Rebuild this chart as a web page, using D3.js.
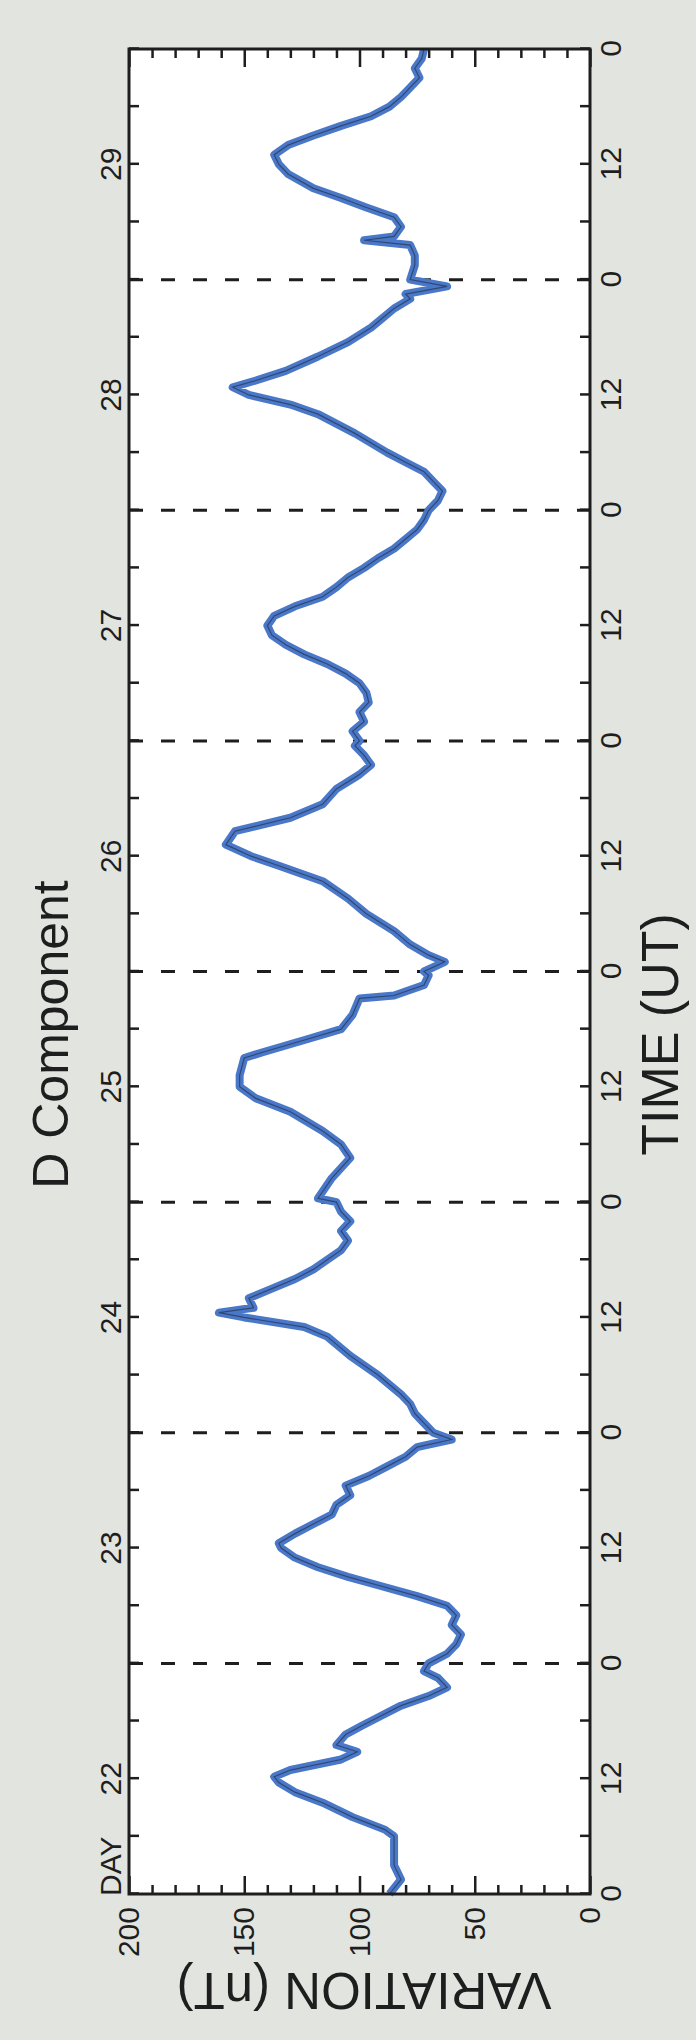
<!DOCTYPE html>
<html>
<head>
<meta charset="utf-8">
<script src="https://cdn.jsdelivr.net/npm/d3@7"></script>
<style>
	body { margin: 0; background: #e2e5df; }
	svg { display: block; }
	text { font-family: "Liberation Sans", Arial, sans-serif; fill: #1e1e1e; }
</style>
</head>
<body>
<svg id="chart" width="696" height="2040"></svg>
<script>
// hours counted from day 22, 00 UT
const HOURS = [
	0, 1.5, 3, 4.5, 6, 6.7, 8, 9.5, 10.6, 11.6, 12.2, 12.9, 14, 14.8, 15.5, 16.6, 17.5, 18.5, 19.6, 20.6, 21.5, 22.5, 23.2, 24,
	25, 26, 27, 28, 29, 30, 31, 32, 33, 34, 35, 36, 36.5, 37.5, 38.5, 39.5, 40.5, 41.5, 42.5, 43.5, 44.5, 45.5, 46.5, 47.3, 48,
	49, 50, 51, 52, 54, 56, 58, 59, 60, 60.5, 61, 62, 63, 64, 65, 66, 67, 68, 69, 70, 71, 72,
	72.4, 74.5, 76.6, 78, 79.4, 81.4, 82.8, 84, 85.2, 87, 87.6, 89, 90, 91.5, 93.2, 93.5, 94.6, 95.6, 96,
	97, 97.7, 98.8, 100.2, 102, 103.6, 105.4, 107, 108, 109.2, 110.6, 112, 113.4, 115, 116.5, 117.5, 118.5, 119.5, 120,
	121, 122, 123, 124, 125, 126, 127, 128, 129, 130, 131, 132, 133, 134, 135, 136, 137, 138, 139, 140, 141, 142, 143, 144,
	145, 146, 147, 148, 149, 150, 152, 154, 155, 156, 156.8, 157.5, 158.5, 160, 161.5, 163, 164, 165, 166, 166.5, 167.3, 168,
	169.5, 170.5, 171.6, 172.1, 172.5, 173.5, 174.5, 175.5, 176.5, 177.5, 179, 180, 181, 182, 183, 184, 185, 186, 187, 188, 189, 190, 191, 192
];
const D_NT = [
	87, 82, 85, 85, 85, 89, 103, 116, 128, 135, 137, 130, 108, 101, 110, 106, 99, 91, 82, 70, 62, 66, 72, 70,
	62, 58, 56, 60, 58, 62, 75, 90, 105, 118, 128, 134, 135, 128, 120, 112, 110, 104, 106, 96, 88, 80, 75, 60, 68,
	72, 76, 78, 82, 92, 104, 114, 124, 150, 161, 146, 148, 138, 128, 120, 114, 108, 105, 108, 104, 108, 110,
	118, 112, 104, 108, 116, 130, 145, 152, 152, 150, 142, 122, 108, 103, 100, 85, 72, 70, 72,
	63, 70, 78, 85, 97, 105, 116, 135, 147, 158, 154, 130, 116, 110, 100, 95, 98, 102, 100,
	103, 98, 100, 96, 97, 100, 106, 114, 124, 132, 138, 140, 137, 128, 116, 110, 105, 98, 92, 85, 80, 75, 72, 70,
	66, 64, 68, 72, 80, 88, 102, 118, 130, 148, 155, 145, 132, 118, 105, 95, 90, 85, 78, 80, 62, 78,
	76, 76, 78, 98, 85, 82, 85, 97, 108, 120, 131, 135, 137, 131, 120, 108, 95, 87, 82, 78, 74, 76, 73, 72
];
const DAYS = [22, 23, 24, 25, 26, 27, 28, 29];
const VALUE_TICKS = [0, 50, 100, 150, 200];

const BG = "#e2e5df";
const INK = "#1e1e1e";
const LINE_BLUE = "#4a78c8";

// the whole chart is drawn landscape, then turned a quarter turn
const W = 696, H = 2040;
const MARGIN = { left: 146, top: 129 };
const PLOT_W = 1845;
const PLOT_H = 461;

const svg = d3.select("#chart");
svg.append("rect").attr("width", W).attr("height", H).attr("fill", BG);

const root = svg.append("g").attr("transform", "translate(0," + H + ") rotate(-90)");
const g = root.append("g").attr("transform", "translate(" + MARGIN.left + "," + MARGIN.top + ")");

const x = d3.scaleLinear().domain([0, DAYS.length * 24]).range([0, PLOT_W]);
const y = d3.scaleLinear().domain([0, 200]).range([PLOT_H, 0]);

g.append("rect")
	.attr("width", PLOT_W)
	.attr("height", PLOT_H)
	.attr("fill", "#fff");

// day boundaries
const bounds = d3.range(1, DAYS.length).map((d) => d * 24);
g.append("g")
	.selectAll("line")
	.data(bounds)
	.enter().append("line")
	.attr("x1", (d) => x(d))
	.attr("x2", (d) => x(d))
	.attr("y1", 0)
	.attr("y2", PLOT_H)
	.attr("stroke", INK)
	.attr("stroke-width", 3)
	.attr("stroke-dasharray", "14,18");

// data
const pts = HOURS.map((h, i) => [h, D_NT[i]]);
const line = d3.line().x((d) => x(d[0])).y((d) => y(d[1]));

g.append("path")
	.datum(pts)
	.attr("fill", "none")
	.attr("stroke", LINE_BLUE)
	.attr("stroke-width", 8)
	.attr("stroke-linejoin", "round")
	.attr("d", line);

g.append("path")
	.datum(pts)
	.attr("fill", "none")
	.attr("stroke", "#26324f")
	.attr("stroke-width", 1.2)
	.attr("stroke-opacity", 0.7)
	.attr("d", line);

// axes
const hourTicks = d3.range(0, DAYS.length * 24 + 1, 6);
const styleAxis = (sel) => {
	sel.select(".domain").remove();
	sel.selectAll(".tick line").attr("stroke", INK).attr("stroke-width", 2.5);
	sel.selectAll(".tick text").attr("font-size", 30).attr("fill", INK)
		.attr("font-family", "Liberation Sans, Arial, sans-serif");
};

g.append("g")
	.attr("transform", "translate(0," + PLOT_H + ")")
	.call(d3.axisBottom(x).tickValues(hourTicks).tickSize(-10).tickPadding(10)
		.tickFormat((d) => (d % 12 === 0 ? String(d % 24) : "")))
	.call(styleAxis);

g.append("g")
	.call(d3.axisTop(x).tickValues(hourTicks).tickSize(-10).tickFormat(""))
	.call(styleAxis);

const minorTicks = d3.range(0, 201, 10).filter((d) => d % 50 !== 0);
g.append("g")
	.call(d3.axisLeft(y).tickValues(minorTicks).tickSize(-9).tickFormat(""))
	.call(styleAxis);
g.append("g")
	.call(d3.axisLeft(y).tickValues(VALUE_TICKS).tickSize(-18).tickPadding(13))
	.call(styleAxis);
g.append("g")
	.attr("transform", "translate(" + PLOT_W + ",0)")
	.call(d3.axisRight(y).tickValues(minorTicks).tickSize(-9).tickFormat(""))
	.call(styleAxis);
g.append("g")
	.attr("transform", "translate(" + PLOT_W + ",0)")
	.call(d3.axisRight(y).tickValues(VALUE_TICKS).tickSize(-18).tickFormat(""))
	.call(styleAxis);

g.append("rect")
	.attr("width", PLOT_W)
	.attr("height", PLOT_H)
	.attr("fill", "none")
	.attr("stroke", INK)
	.attr("stroke-width", 3);

// day labels
g.append("g")
	.attr("font-size", 30)
	.attr("text-anchor", "middle")
	.selectAll("text")
	.data(DAYS)
	.enter().append("text")
	.attr("x", (d, i) => x(i * 24 + 12))
	.attr("y", -8)
	.text((d) => d);

g.append("text")
	.attr("x", -2)
	.attr("y", -8)
	.attr("font-size", 30)
	.text("DAY");

// titles
const midX = PLOT_W / 2 - 63;
g.append("text")
	.attr("x", midX)
	.attr("y", 68 - MARGIN.top)
	.attr("text-anchor", "middle")
	.attr("font-size", 50)
	.text("D Component");

g.append("text")
	.attr("x", midX)
	.attr("y", PLOT_H + 88)
	.attr("text-anchor", "middle")
	.attr("font-size", 52)
	.text("TIME (UT)");

g.append("text")
	.attr("transform", "translate(" + (67 - MARGIN.left) + "," + (364 - MARGIN.top) + ") rotate(-90)")
	.attr("text-anchor", "middle")
	.attr("font-size", 51)
	.text("VARIATION (nT)");
</script>
</body>
</html>
